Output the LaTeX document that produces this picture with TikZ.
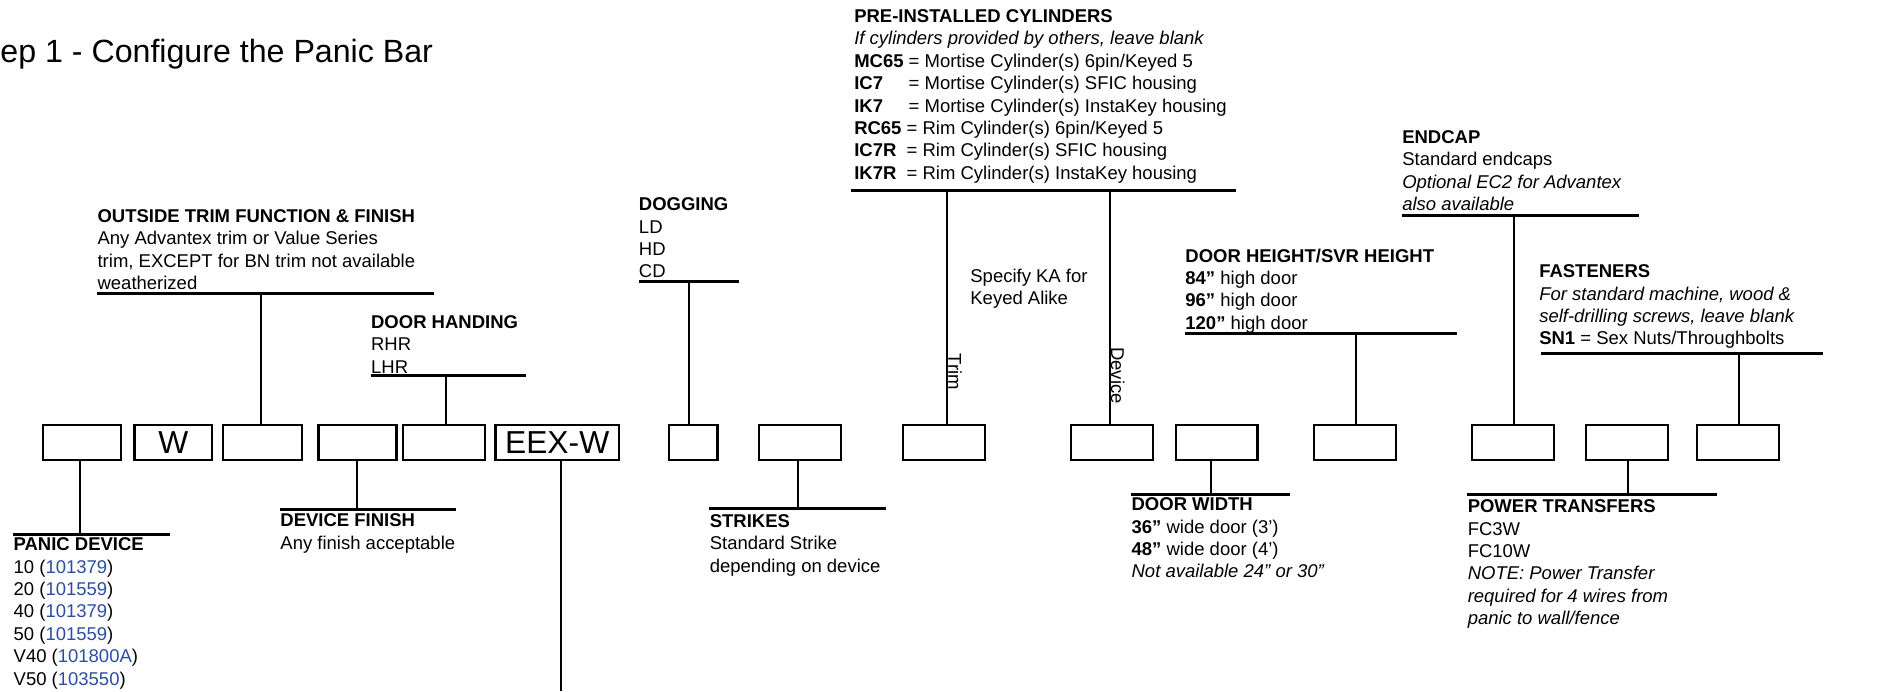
\documentclass[tikz,border=0pt]{standalone}
\usepackage{fontspec}
\setmainfont{Liberation Sans}
\usetikzlibrary{positioning}
\definecolor{partblue}{HTML}{2B4EA2}
\newcommand\pn[1]{\textcolor{partblue}{#1}}
\newcommand\keyas[2]{\rlap{\textbf{#2}}\phantom{\textbf{#1}}}

\begin{document}
\begin{tikzpicture}[x=0.6pt,y=-0.6pt,
  slot/.style={draw,line width=1.1pt,inner sep=0pt,minimum height=17.6pt,minimum width=0.6pt*#1,font=\fontsize{15.8}{18}\selectfont},
  slot/.default=68,
  bar/.style={line width=1.5pt},
  riser/.style={line width=1pt},
  info/.style={anchor=north west,align=left,inner sep=0pt,font=\fontsize{9.2}{11.16}\selectfont},
  side/.style={rotate=-90,anchor=base west,inner sep=0pt,font=\fontsize{9.2}{11.16}\selectfont}]
\useasboundingbox (0,0) rectangle (1568,573);
\node[anchor=base west,inner sep=0pt,font=\fontsize{16}{19}\selectfont] (title) at (0,52) {ep 1 - Configure the Panic Bar};
% order code slots
\node[slot=65] (b1) at (68,367) {};
\node[slot=64.5] (b2) at (143.7,367) {W};
\node[slot=65] (b3) at (217.7,367) {};
\node[slot=64.6] (b4) at (296.4,367) {};
\node[slot] (b5) at (368,367) {};
\node[slot=102.3] (b6) at (462,367) {EEX-W};
\node[slot=40] (b7) at (575,367) {};
\node[slot=67.5] (b8) at (663.3,367) {};
\node[slot] (b9) at (783,367) {};
\node[slot] (b10) at (921.8,367) {};
\node[slot=67.7] (b11) at (1008.8,367) {};
\node[slot] (b12) at (1123.6,367) {};
\node[slot] (b13) at (1254.6,367) {};
\node[slot] (b14) at (1349,367) {};
\node[slot] (b15) at (1440.8,367) {};
% outside trim
\node[info] (trim) at (80.6,173.5) {\textbf{OUTSIDE TRIM FUNCTION \& FINISH}\\Any Advantex trim or Value Series\\trim, EXCEPT for BN trim not available\\weatherized};
\coordinate (trimL) at (80.6,243.2); \coordinate (trimR) at (360,243.2); \coordinate (trimT) at (216.4,243.2);
\draw[bar] (trimL)--(trimR); \draw[riser] (trimT)--(trimT |- b3.north);
% door handing
\node[info] (hand) at (307.4,261.2) {\textbf{DOOR HANDING}\\RHR\\LHR};
\coordinate (handL) at (307.4,311.5); \coordinate (handR) at (436.2,311.5); \coordinate (handT) at (369.8,311.5);
\draw[bar] (handL)--(handR); \draw[riser] (handT)--(handT |- b5.north);
% dogging
\node[info] (dog) at (529.5,163.6) {\textbf{DOGGING}\\LD\\HD\\CD};
\coordinate (dogL) at (529.5,233.6); \coordinate (dogR) at (613,233.6); \coordinate (dogT) at (571.6,233.6);
\draw[bar] (dogL)--(dogR); \draw[riser] (dogT)--(dogT |- b7.north);
% cylinders
\node[info] (cyl) at (708,7.5) {\textbf{PRE-INSTALLED CYLINDERS}\\
  \textit{If cylinders provided by others, leave blank}\\
  \textbf{MC65} = Mortise Cylinder(s) 6pin/Keyed 5\\
  \keyas{MC65}{IC7} = Mortise Cylinder(s) SFIC housing\\
  \keyas{MC65}{IK7} = Mortise Cylinder(s) InstaKey housing\\
  \textbf{RC65} = Rim Cylinder(s) 6pin/Keyed 5\\
  \keyas{RC65}{IC7R} = Rim Cylinder(s) SFIC housing\\
  \keyas{RC65}{IK7R} = Rim Cylinder(s) InstaKey housing};
\coordinate (cylL) at (705.5,157.6); \coordinate (cylR) at (1025,157.6);
\coordinate (cylA) at (785,157.6); \coordinate (cylB) at (920.4,157.6);
\draw[bar] (cylL)--(cylR); \draw[riser] (cylA)--(cylA |- b9.north); \draw[riser] (cylB)--(cylB |- b10.north);
\node[info] (ka) at (804.3,222.5) {Specify KA for\\Keyed Alike};
\node[side] (trimlab) at (786.3,293) {Trim};
\node[side] (devlab) at (921.4,287.5) {Device};
% endcap
\node[info] (cap) at (1162.4,107.8) {\textbf{ENDCAP}\\Standard endcaps\\\textit{Optional EC2 for Advantex}\\\textit{also available}};
\coordinate (capL) at (1162.4,178.3); \coordinate (capR) at (1359,178.3); \coordinate (capT) at (1255,178.3);
\draw[bar] (capL)--(capR); \draw[riser] (capT)--(capT |- b13.north);
% door height
\node[info] (hgt) at (982.6,205.9) {\textbf{DOOR HEIGHT/SVR HEIGHT}\\\textbf{84”} high door\\\textbf{96”} high door\\\textbf{120”} high door};
\coordinate (hgtL) at (982.9,276.4); \coordinate (hgtR) at (1208.3,276.4); \coordinate (hgtT) at (1124,276.4);
\draw[bar] (hgtL)--(hgtR); \draw[riser] (hgtT)--(hgtT |- b12.north);
% fasteners
\node[info] (fast) at (1276,219.2) {\textbf{FASTENERS}\\\textit{For standard machine, wood \&}\\\textit{self-drilling screws, leave blank}\\\textbf{SN1} = Sex Nuts/Throughbolts};
\coordinate (fastL) at (1278,293.5); \coordinate (fastR) at (1512,293.5); \coordinate (fastT) at (1442.2,293.5);
\draw[bar] (fastL)--(fastR); \draw[riser] (fastT)--(fastT |- b15.north);
% panic device
\node[info] (panic) at (11,445.5) {\textbf{PANIC DEVICE}\\10 (\pn{101379})\\20 (\pn{101559})\\40 (\pn{101379})\\50 (\pn{101559})\\V40 (\pn{101800A})\\V50 (\pn{103550})};
\coordinate (panicL) at (11,442.8); \coordinate (panicR) at (140.6,442.8); \coordinate (panicT) at (66.6,442.8);
\draw[bar] (panicL)--(panicR); \draw[riser] (panicT)--(panicT |- b1.south);
% device finish
\node[info] (fin) at (232.2,425.7) {\textbf{DEVICE FINISH}\\Any finish acceptable};
\coordinate (finL) at (232.2,422.3); \coordinate (finR) at (378,422.3); \coordinate (finT) at (296.2,422.3);
\draw[bar] (finL)--(finR); \draw[riser] (finT)--(finT |- b4.south);
% EEX-W
\coordinate (eexT) at (465.3,573);
\draw[riser] (eexT)--(eexT |- b6.south);
% strikes
\node[info] (str) at (588.2,426.2) {\textbf{STRIKES}\\Standard Strike\\depending on device};
\coordinate (strL) at (588.2,421.5); \coordinate (strR) at (734.4,421.5); \coordinate (strT) at (661.5,421.5);
\draw[bar] (strL)--(strR); \draw[riser] (strT)--(strT |- b8.south);
% door width
\node[info] (wid) at (938,412.4) {\textbf{DOOR WIDTH}\\\textbf{36”} wide door (3’)\\\textbf{48”} wide door (4’)\\\textit{Not available 24” or 30”}};
\coordinate (widL) at (938,409.9); \coordinate (widR) at (1069.4,409.9); \coordinate (widT) at (1004.2,409.9);
\draw[bar] (widL)--(widR); \draw[riser] (widT)--(widT |- b11.south);
% power transfers
\node[info] (pow) at (1216.7,414) {\textbf{POWER TRANSFERS}\\FC3W\\FC10W\\\textit{NOTE: Power Transfer}\\\textit{required for 4 wires from}\\\textit{panic to wall/fence}};
\coordinate (powL) at (1216.7,410.4); \coordinate (powR) at (1423.7,410.4); \coordinate (powT) at (1349.7,410.4);
\draw[bar] (powL)--(powR); \draw[riser] (powT)--(powT |- b14.south);
\end{tikzpicture}
\end{document}
